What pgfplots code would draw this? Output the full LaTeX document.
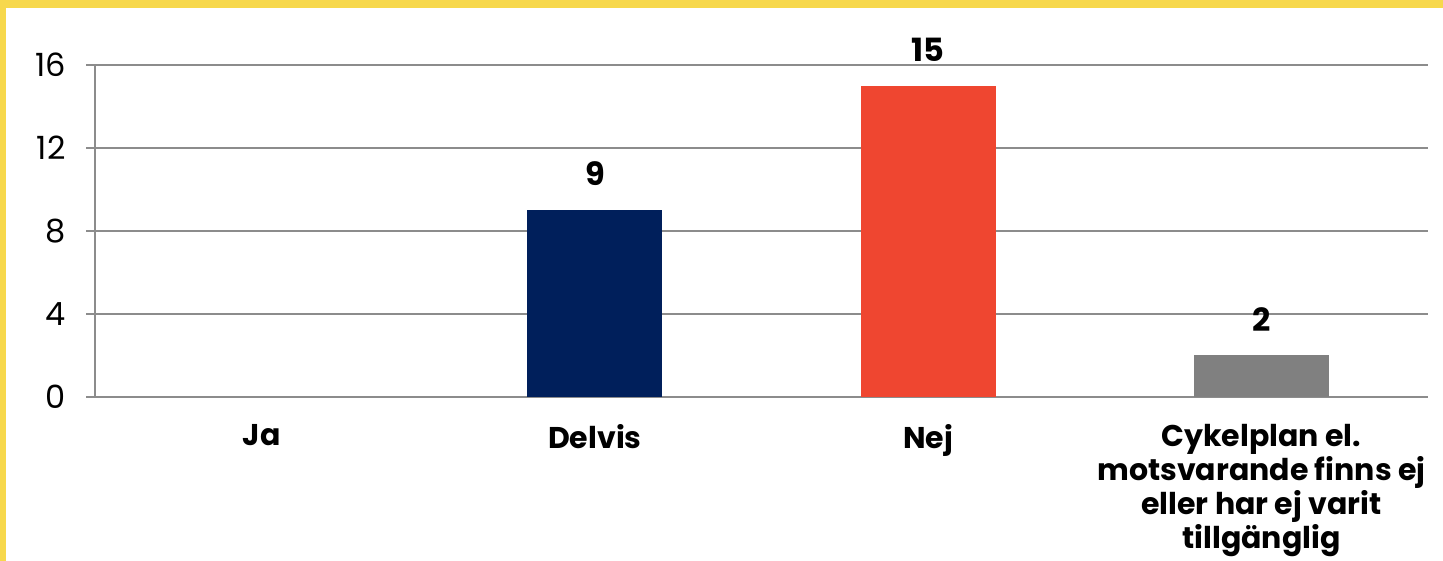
\documentclass[border=0pt]{standalone}
\usepackage{fontspec}
\setmainfont{Poppins}
\usepackage{pgfplots}
\pgfplotsset{compat=1.18}
\definecolor{frame}{HTML}{F7D84C}
\definecolor{navy}{HTML}{001F5B}
\definecolor{redbar}{HTML}{EF4630}
\definecolor{graybar}{HTML}{808080}
\definecolor{gridgray}{HTML}{8C8C8C}

\begin{document}
\begin{tikzpicture}
% background and yellow frame (1 px = 0.5pt)
\useasboundingbox (0,0) rectangle (721.5pt,280.5pt);
\fill[frame] (0,0) rectangle (721.5pt,280.5pt);
\fill[white] (3pt,0) rectangle (721.5pt,276.5pt);
\begin{axis}[
    at={(47.5pt,82pt)}, anchor=south west,
    scale only axis,
    width=666.5pt, height=166pt,
    xmin=-0.5, xmax=3.5,
    ymin=0, ymax=16,
    ytick={0,4,8,12,16},
    xtick={0,1,2,3},
    xticklabels={Ja,Delvis,Nej,{Cykelplan el.\\motsvarande finns ej\\eller har ej varit\\tillgänglig}},
    extra x ticks={-0.5,0.5,1.5,2.5,3.5},
    extra x tick labels={},
    extra x tick style={major tick length=4.5pt, tick style={gridgray, line width=1pt}},
    major tick length=4.5pt,
    tick align=outside,
    axis x line*=bottom,
    axis y line*=left,
    axis line style={gridgray, line width=1pt, -},
    x tick style={draw=none},
    y tick style={gridgray, line width=1pt},
    ymajorgrids=true,
    grid style={gridgray, line width=1pt},
    yticklabel style={font=\fontsize{16}{18}\selectfont, text=black, inner sep=0pt, xshift=-10pt},
    xticklabel style={font=\fontsize{15}{17}\selectfont\bfseries, text=black, align=center, inner sep=0pt, yshift=-9pt},
    /pgf/number format/assume math mode=true,
    ybar, bar width=67.5pt, bar shift=0pt,
    nodes near coords,
    every node near coord/.append style={font=\fontsize{16}{18}\selectfont\bfseries, text=black, inner sep=0pt, anchor=south, yshift=12pt},
    clip=false,
]
\addplot[fill=navy, draw=none] coordinates {(1,9)};
\addplot[fill=redbar, draw=none] coordinates {(2,15)};
\addplot[fill=graybar, draw=none] coordinates {(3,2)};
\end{axis}
\end{tikzpicture}
\end{document}
